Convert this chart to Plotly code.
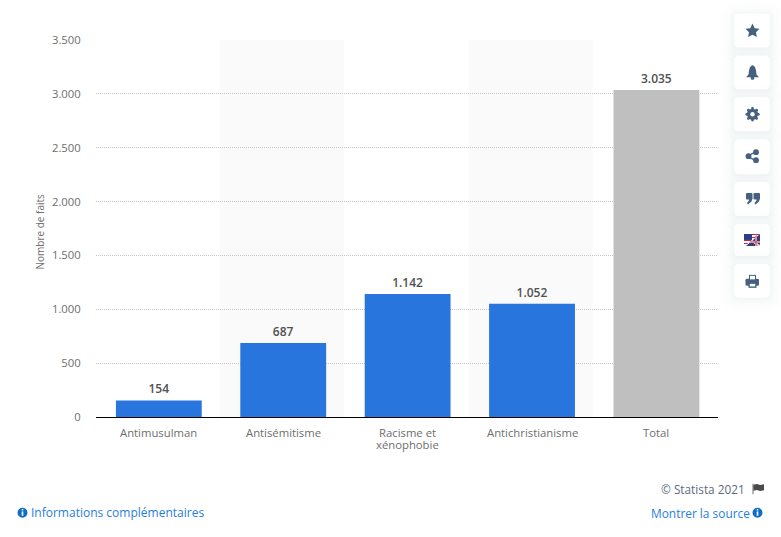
import plotly.graph_objects as go

categories = ["Antimusulman", "Antisémitisme", "Racisme et xénophobie", "Antichristianisme", "Total"]
category_lines = [["Antimusulman"], ["Antisémitisme"], ["Racisme et", "xénophobie"], ["Antichristianisme"], ["Total"]]
values = [154, 687, 1142, 1052, 3035]
bar_colors = ["#2875dd", "#2875dd", "#2875dd", "#2875dd", "#bfbfbf"]
y_ticks = [0, 500, 1000, 1500, 2000, 2500, 3000, 3500]
y_title = "Nombre de faits"
credit = "© Statista 2021"
info_text = "Informations complémentaires"
source_text = "Montrer la source"

W, H = 781, 537
L, R, T, B = 96, 718, 39.5, 417.5
FONT = "Open Sans"
TEXT = "#6e6e6e"


def px(x):
    return (x - L) / (R - L)


def py(y):
    return (B - y) / (B - T)


def rounded(x0, y0, x1, y1, r):
    return (f"M{px(x0+r)},{py(y0)} L{px(x1-r)},{py(y0)} Q{px(x1)},{py(y0)} {px(x1)},{py(y0+r)} "
            f"L{px(x1)},{py(y1-r)} Q{px(x1)},{py(y1)} {px(x1-r)},{py(y1)} "
            f"L{px(x0+r)},{py(y1)} Q{px(x0)},{py(y1)} {px(x0)},{py(y1-r)} "
            f"L{px(x0)},{py(y0+r)} Q{px(x0)},{py(y0)} {px(x0+r)},{py(y0)} Z")


def poly(points):
    return "M" + " L".join(f"{px(a)},{py(b)}" for a, b in points) + " Z"


shapes = []


def add_path(path, color):
    shapes.append(dict(type="path", xref="paper", yref="paper", path=path,
                       fillcolor=color, line=dict(width=0), layer="above"))


def add_box(x0, y0, x1, y1, color):
    shapes.append(dict(type="rect", xref="paper", yref="paper", x0=px(x0), x1=px(x1),
                       y0=py(y0), y1=py(y1), fillcolor=color, line=dict(width=0), layer="above"))


def add_circle(cx, cy, r, color):
    shapes.append(dict(type="circle", xref="paper", yref="paper", x0=px(cx - r), x1=px(cx + r),
                       y0=py(cy - r), y1=py(cy + r), fillcolor=color, line=dict(width=0), layer="above"))


# alternating category bands
for i in (1, 3):
    shapes.append(dict(type="rect", xref="x", yref="paper", x0=i - 0.51, x1=i + 0.49, y0=0, y1=1,
                       fillcolor="rgba(0,0,0,0.02)", line=dict(width=0), layer="below"))

# side toolbar
ICON = "#46607f"
BOX_SPANS = [(13, 47), (55, 89), (97, 131), (139, 174), (182, 216), (224, 256), (264, 298)]
for top, bottom in BOX_SPANS:
    for grow, alpha in ((14, 0.004), (10, 0.005), (7, 0.006), (5, 0.008), (3, 0.010), (1, 0.014)):
        add_path(rounded(734 - grow, top - grow + 1, 770 + grow, bottom + grow + 1, 5 + grow),
                 f"rgba(40,70,110,{alpha})")
    add_path(rounded(734, top, 770, bottom, 5), "#ffffff")

# star
add_path(poly([(752.5, 23), (754.7, 27.6), (759.5, 28.3), (756, 31.8), (756.9, 36.6), (752.5, 34.3),
               (748.1, 36.6), (749, 31.8), (745.5, 28.3), (750.3, 27.6)]), ICON)
# bell
add_path(poly([(752.5, 64.5), (755, 66.5), (756, 70), (756.5, 74), (759, 76.8), (746, 76.8), (748.5, 74),
               (749, 70), (750, 66.5)]), ICON)
add_circle(752.5, 77.5, 1.9, ICON)
# gear
add_circle(752.5, 114, 5.6, ICON)
for dx, dy in ((0, -5.8), (0, 5.8), (-5.8, 0), (5.8, 0), (-4.1, -4.1), (4.1, -4.1), (-4.1, 4.1), (4.1, 4.1)):
    add_circle(752.5 + dx, 114 + dy, 1.4, ICON)
add_circle(752.5, 114, 2.2, "#ffffff")
# share
add_path(poly([(748, 154.8), (756, 150.8), (756.6, 152), (748.6, 156), (756.6, 160), (756, 161.2),
               (748, 157.2)]), ICON)
add_circle(748.5, 156, 2.9, ICON)
add_circle(756, 152, 2.9, ICON)
add_circle(756, 160, 2.9, ICON)
# quote marks
for off in (0, 7.5):
    add_path(rounded(746 + off, 193, 752.5 + off, 199.5, 1), ICON)
    add_path(poly([(749 + off, 198), (752.5 + off, 198), (751.5 + off, 201.5), (748 + off, 204.5),
                   (747 + off, 203), (749 + off, 200.5)]), ICON)
# flag: US upper left, UK lower right
add_box(744, 234, 760, 246, "#ffffff")
for k in range(0, 12, 3):
    add_path(poly([(744, 234 + k), (760 - k * 1.3, 234 + k), (760 - k * 1.3 - 1.3, 235 + k), (744, 235 + k)]), "#c8283e")
add_box(744, 234, 752, 240, "#2b3f86")
add_path(poly([(760, 234), (760, 246), (746, 246)]), "#2b3f86")
add_path(poly([(752, 240), (760, 245), (760, 246), (758, 246), (751, 241.5)]), "#f4d6da")
add_path(poly([(755, 236), (757, 234.5), (757, 246), (755, 246)]), "#f3f3f6")
add_path(poly([(750, 241), (760, 241), (760, 243), (749, 243)]), "#f3f3f6")
add_path(poly([(755.5, 236), (756.5, 235), (756.5, 246), (755.5, 246)]), "#c8283e")
add_path(poly([(750, 241.5), (760, 241.5), (760, 242.5), (749.5, 242.5)]), "#c8283e")
# printer
add_box(749, 275, 756, 280, ICON)
add_path(rounded(745.5, 279, 759, 286, 1.5), ICON)
add_box(748.5, 283, 756.5, 288, ICON)
add_box(749.8, 284, 755.2, 286.6, "#ffffff")
add_box(750, 276, 755, 279.5, "#ffffff")

# info icons
add_circle(22.5, 513.5, 5, "#0f6fc6")
add_circle(757.5, 513.5, 5, "#0f6fc6")
for cx in (22.5, 757.5):
    add_box(cx - 0.8, 512.2, cx + 0.8, 516.5, "#ffffff")
    add_box(cx - 0.8, 509.8, cx + 0.8, 511.2, "#ffffff")
# small flag next to credit
add_box(752.6, 484.5, 753.4, 495, "#4a4a4a")
add_path(poly([(753.4, 485.5), (757, 484.8), (760, 485.8), (764, 485), (764, 491), (760, 491.8),
               (757, 490.8), (753.4, 491.5)]), "#4a4a4a")

fig = go.Figure(go.Bar(
    x=categories, y=values, marker=dict(color=bar_colors, line=dict(width=0)), width=0.69,
    text=values, texttemplate="%{y:,d}", textposition="outside", cliponaxis=False,
    textfont=dict(family=FONT, size=12, color="#505050", weight=600),
    hoverinfo="skip",
))


def note(x, y, text, color, size, anchor="left", **kw):
    return dict(x=px(x), y=py(y), xref="paper", yref="paper", text=text, showarrow=False,
                xanchor=anchor, yanchor="middle", font=dict(family=FONT, size=size, color=color), **kw)


annotations = [
    note(746.5, 490, credit, "#5b6b80", 11.8, "right"),
    note(28.5, 513.5, info_text, "#1f80dc", 12),
    note(751.5, 513.5, source_text, "#1f80dc", 11.9, "right"),
    note(39.5, 232, y_title, TEXT, 10, "center", textangle=-90),
]
for cat, lines in zip(categories, category_lines):
    for n, line in enumerate(lines):
        annotations.append(dict(x=cat, xref="x", y=py(433 + 12.5 * n), yref="paper", text=line,
                                showarrow=False, xanchor="center", yanchor="middle",
                                font=dict(family=FONT, size=11.3, color=TEXT)))

fig.update_layout(
    width=W, height=H, autosize=False,
    margin=dict(l=L, r=W - R, t=T, b=H - B),
    paper_bgcolor="#ffffff", plot_bgcolor="#ffffff",
    separators=",.", showlegend=False, bargap=0.31,
    font=dict(family=FONT, size=11, color=TEXT),
    shapes=shapes,
    xaxis=dict(type="category", categoryorder="array", categoryarray=categories, range=[-0.505, 4.495],
               showgrid=False, showline=True, linecolor="#000000", linewidth=1,
               ticks="", showticklabels=False),
    yaxis=dict(range=[0, 3500], tickvals=y_ticks, tickformat=",d", showgrid=True,
               gridcolor="#c6c6c6", griddash="1px,1px", gridwidth=1, zeroline=False, showline=False,
               ticks="outside", ticklen=12, tickcolor="rgba(0,0,0,0)",
               tickfont=dict(family=FONT, size=11.3, color=TEXT)),
    annotations=annotations,
)

fig.write_html("out.html", config=dict(displayModeBar=False),
               post_script="document.body.style.margin='0';")
